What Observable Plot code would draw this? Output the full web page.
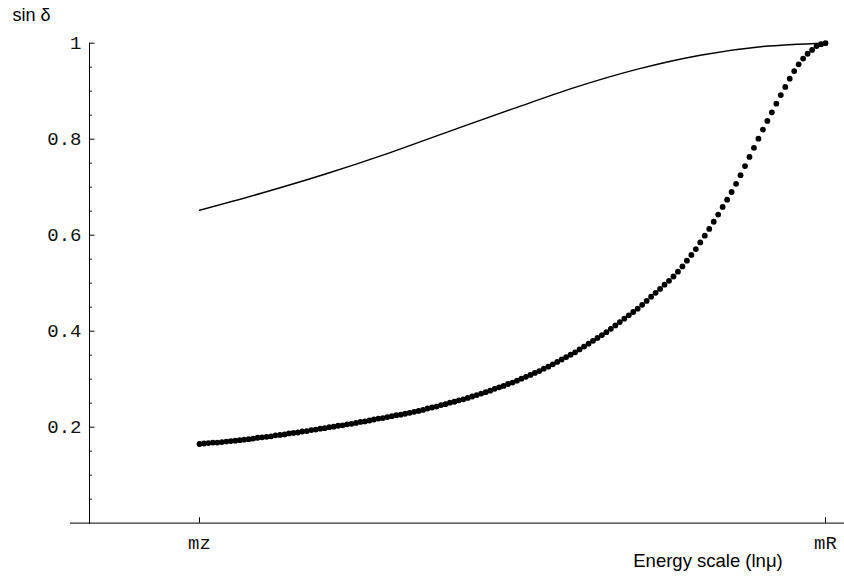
<!DOCTYPE html>
<html><head><meta charset="utf-8">
<script src="https://cdn.jsdelivr.net/npm/d3@7"></script>
<script src="https://cdn.jsdelivr.net/npm/@observablehq/plot@0.6"></script>
<style>html,body{margin:0;padding:0;background:#fff;}</style>
</head><body><div id="chart"></div>
<script>
// ---- data ----
const xTickPositions = [0, 1];
const xTickLabels = ["mz", "mR"];
const yMajorTicks = [0.2, 0.4, 0.6, 0.8, 1];
const yTickLabels = ["0.2", "0.4", "0.6", "0.8", "1"];
const yMinorTicks = [0.05, 0.10, 0.15, 0.25, 0.30, 0.35, 0.45, 0.50, 0.55, 0.65, 0.70, 0.75, 0.85, 0.90, 0.95];
const yTitle = "sin δ";
const xTitle = "Energy scale (lnμ)";

// solid curve
const lineX = [0, 0.1, 0.2, 0.3, 0.4, 0.5, 0.6, 0.7, 0.8, 0.9, 1.0];
const lineY = [0.652, 0.688, 0.727, 0.770, 0.817, 0.863, 0.908, 0.946, 0.975, 0.993, 1.000];

// dotted curve, evenly spaced from mz to mR
const dotY = [
  0.165, 0.166, 0.167, 0.168, 0.168, 0.169, 0.170, 0.171, 0.172, 0.173,
  0.174, 0.175, 0.176, 0.178, 0.179, 0.180, 0.181, 0.183, 0.184, 0.185,
  0.187, 0.188, 0.189, 0.191, 0.192, 0.194, 0.195, 0.197, 0.198, 0.200,
  0.201, 0.203, 0.204, 0.206, 0.207, 0.209, 0.211, 0.212, 0.214, 0.216,
  0.218, 0.219, 0.221, 0.223, 0.225, 0.226, 0.228, 0.230, 0.232, 0.234,
  0.236, 0.239, 0.241, 0.243, 0.246, 0.248, 0.251, 0.253, 0.256, 0.258,
  0.261, 0.264, 0.267, 0.270, 0.273, 0.276, 0.280, 0.283, 0.286, 0.290,
  0.293, 0.297, 0.301, 0.305, 0.309, 0.313, 0.317, 0.322, 0.326, 0.331,
  0.336, 0.341, 0.346, 0.351, 0.356, 0.362, 0.368, 0.374, 0.380, 0.386,
  0.392, 0.398, 0.405, 0.412, 0.419, 0.426, 0.433, 0.440, 0.447, 0.455,
  0.463, 0.472, 0.480, 0.488, 0.497, 0.505, 0.514, 0.524, 0.535, 0.547,
  0.559, 0.571, 0.585, 0.599, 0.613, 0.628, 0.643, 0.659, 0.674, 0.690,
  0.707, 0.725, 0.744, 0.763, 0.782, 0.801, 0.820, 0.838, 0.856, 0.874,
  0.892, 0.909, 0.926, 0.942, 0.956, 0.968, 0.978, 0.986, 0.994, 0.998,
  1.000
];

// ---- tables for the library ----
const lineData = lineX.map((x, i) => ({x, y: lineY[i]}));
const dotData = dotY.map((y, i) => ({x: i / (dotY.length - 1), y}));
const xTickData = xTickPositions.map((x, i) => ({x, label: xTickLabels[i]}));
const yTickData = yMajorTicks.map((y, i) => ({y, label: yTickLabels[i]}));

// ---- layout ----
const W = 844, H = 578;
const mL = 89, mR = 0, mT = 42.7, mB = 55.3;
const frameH = H - mT - mB;
const mono = "Liberation Mono, Courier New, monospace";
const sans = "Liberation Sans, Arial, sans-serif";

const chart = Plot.plot({
  width: W, height: H,
  marginLeft: mL, marginRight: mR, marginTop: mT, marginBottom: mB,
  style: {background: "#fff", color: "#000"},
  x: {domain: [0, 1], range: [199, 825], axis: null},
  y: {domain: [0, 1], range: [H - mB, mT], axis: null},
  marks: [
    // x axis line
    Plot.ruleY([0], {insetLeft: -19, stroke: "#333", strokeWidth: 1.2}),
    // y axis line
    Plot.frame({anchor: "left", stroke: "#000", strokeWidth: 1}),
    // y ticks (pointing inward)
    Plot.tickY(yMajorTicks, {insetRight: W - mL - mR - 5.5, stroke: "#000", strokeWidth: 1}),
    Plot.tickY(yMinorTicks, {insetRight: W - mL - mR - 2.8, stroke: "#000", strokeWidth: 1}),
    // x ticks (pointing up)
    Plot.tickX(xTickPositions, {insetTop: frameH - 5.5, stroke: "#000", strokeWidth: 1}),
    // tick labels
    Plot.text(yTickData, {y: "y", text: "label", frameAnchor: "left", dx: -8, textAnchor: "end",
      lineAnchor: "middle", fontFamily: mono, fontSize: 19, fill: "#111"}),
    Plot.text(xTickData, {x: "x", text: "label", frameAnchor: "bottom", dy: 25.3, textAnchor: "middle",
      lineAnchor: "bottom", fontFamily: mono, fontSize: 19, fill: "#111"}),
    // axis titles
    Plot.text([yTitle], {frameAnchor: "top-left", dx: -77, dy: -22.7, textAnchor: "start",
      lineAnchor: "bottom", fontFamily: sans, fontSize: 18, fill: "#000"}),
    Plot.text([xTitle], {frameAnchor: "bottom", dx: 707.5 - (mL + (W - mR)) / 2, dy: 43.3, textAnchor: "middle",
      lineAnchor: "bottom", fontFamily: sans, fontSize: 18.5, fill: "#000"}),
    // data
    Plot.line(lineData, {x: "x", y: "y", curve: "monotone-x", stroke: "#000", strokeWidth: 1.4}),
    Plot.dot(dotData, {x: "x", y: "y", r: 2.9, fill: "#000", stroke: null})
  ]
});
document.getElementById("chart").appendChild(chart);
</script>
</body></html>
